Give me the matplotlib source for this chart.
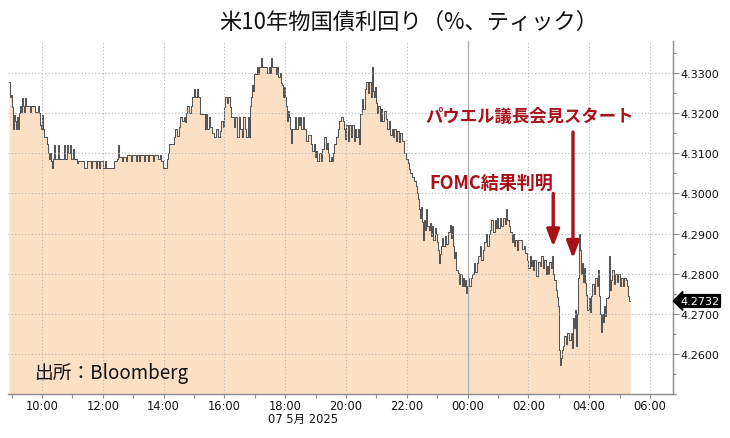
import matplotlib
matplotlib.use("Agg")
import matplotlib.pyplot as plt
import numpy as np
from matplotlib.ticker import FixedLocator, FixedFormatter, MultipleLocator, FormatStrFormatter

plt.rcParams['font.family'] = ['DejaVu Sans', 'Noto Sans CJK JP']

# ---------------- data ----------------
title = "米10年物国債利回り（%、ティック）"
source_label = "出所：Bloomberg"
date_label = "07 5月 2025"
fomc_label = "FOMC結果判明"
powell_label = "パウエル議長会見スタート"
last_value = 4.2732

x_tick_labels = ["10:00", "12:00", "14:00", "16:00", "18:00", "20:00",
                 "22:00", "00:00", "02:00", "04:00", "06:00"]
y_ticks = [4.26, 4.27, 4.28, 4.29, 4.30, 4.31, 4.32, 4.33]

times = [
    "08:55", "08:56", "08:58", "09:00", "09:02", "09:04", "09:06", "09:08", "09:10", "09:12",
    "09:14", "09:16", "09:18", "09:20", "09:22", "09:24", "09:26", "09:28", "09:34", "09:36",
    "09:38", "09:44", "09:46", "09:50", "09:52", "09:54", "09:56", "09:58", "10:00", "10:02",
    "10:04", "10:08", "10:10", "10:12", "10:14", "10:16", "10:18", "10:20", "10:22", "10:24",
    "10:26", "10:30", "10:32", "10:34", "10:42", "10:44", "10:46", "10:50", "10:52", "10:56",
    "10:58", "11:02", "11:04", "11:08", "11:10", "11:12", "11:20", "11:22", "11:26", "11:28",
    "11:34", "11:36", "11:38", "11:44", "11:46", "11:48", "11:52", "11:54", "11:58", "12:00",
    "12:04", "12:06", "12:18", "12:22", "12:26", "12:28", "12:30", "12:32", "12:36", "12:38",
    "12:40", "12:44", "12:46", "12:48", "12:54", "12:56", "12:58", "13:04", "13:06", "13:08",
    "13:12", "13:14", "13:20", "13:22", "13:24", "13:30", "13:32", "13:38", "13:40", "13:42",
    "13:48", "13:52", "13:55", "13:58", "14:04", "14:06", "14:08", "14:10", "14:18", "14:20",
    "14:22", "14:26", "14:30", "14:32", "14:36", "14:40", "14:42", "14:44", "14:46", "14:50",
    "14:54", "14:56", "15:00", "15:02", "15:06", "15:08", "15:10", "15:12", "15:20", "15:22",
    "15:24", "15:26", "15:30", "15:32", "15:36", "15:40", "15:44", "15:48", "15:52", "15:54",
    "15:58", "16:00", "16:02", "16:06", "16:08", "16:12", "16:14", "16:18", "16:20", "16:24",
    "16:28", "16:30", "16:34", "16:36", "16:40", "16:42", "16:46", "16:48", "16:50", "16:52",
    "16:54", "16:56", "16:58", "17:00", "17:04", "17:06", "17:08", "17:12", "17:14", "17:22",
    "17:24", "17:28", "17:30", "17:32", "17:34", "17:40", "17:42", "17:44", "17:46", "17:50",
    "17:52", "17:54", "17:56", "17:58", "18:00", "18:02", "18:04", "18:06", "18:08", "18:10",
    "18:12", "18:14", "18:18", "18:20", "18:22", "18:26", "18:28", "18:30", "18:32", "18:36",
    "18:38", "18:42", "18:46", "18:50", "18:52", "18:56", "18:58", "19:00", "19:02", "19:06",
    "19:10", "19:12", "19:16", "19:20", "19:22", "19:24", "19:26", "19:30", "19:32", "19:34",
    "19:36", "19:40", "19:44", "19:46", "19:50", "19:54", "19:56", "19:58", "20:00", "20:04",
    "20:06", "20:10", "20:12", "20:16", "20:18", "20:20", "20:24", "20:26", "20:28", "20:32",
    "20:34", "20:38", "20:40", "20:44", "20:46", "20:50", "20:52", "20:54", "20:56", "20:58",
    "21:00", "21:02", "21:04", "21:08", "21:10", "21:12", "21:16", "21:18", "21:20", "21:24",
    "21:26", "21:30", "21:32", "21:34", "21:38", "21:40", "21:44", "21:46", "21:50", "21:54",
    "21:58", "22:02", "22:04", "22:06", "22:10", "22:14", "22:18", "22:20", "22:22", "22:24",
    "22:26", "22:28", "22:30", "22:32", "22:34", "22:36", "22:38", "22:40", "22:44", "22:46",
    "22:48", "22:50", "22:52", "22:56", "22:58", "23:00", "23:02", "23:04", "23:06", "23:08",
    "23:10", "23:12", "23:16", "23:18", "23:22", "23:26", "23:28", "23:30", "23:32", "23:34",
    "23:36", "23:38", "23:42", "23:44", "23:46", "23:48", "23:50", "23:52", "23:54", "23:56",
    "23:58", "00:00", "00:02", "00:06", "00:08", "00:12", "00:14", "00:18", "00:20", "00:24",
    "00:26", "00:30", "00:32", "00:36", "00:38", "00:42", "00:44", "00:46", "00:50", "00:54",
    "00:56", "00:58", "01:00", "01:04", "01:06", "01:10", "01:14", "01:16", "01:18", "01:22",
    "01:24", "01:28", "01:30", "01:32", "01:34", "01:38", "01:40", "01:46", "01:48", "01:52",
    "01:54", "01:58", "02:00", "02:04", "02:06", "02:08", "02:10", "02:12", "02:16", "02:18",
    "02:22", "02:24", "02:28", "02:30", "02:34", "02:36", "02:38", "02:40", "02:44", "02:46",
    "02:48", "02:50", "02:54", "02:56", "02:58", "03:00", "03:02", "03:04", "03:06", "03:08",
    "03:10", "03:14", "03:16", "03:20", "03:24", "03:26", "03:28", "03:30", "03:32", "03:34",
    "03:36", "03:38", "03:40", "03:42", "03:44", "03:46", "03:48", "03:50", "03:52", "03:54",
    "03:56", "04:00", "04:02", "04:04", "04:06", "04:10", "04:12", "04:16", "04:18", "04:20",
    "04:22", "04:24", "04:26", "04:28", "04:30", "04:32", "04:34", "04:38", "04:40", "04:42",
    "04:44", "04:46", "04:48", "04:50", "04:54", "04:56", "05:00", "05:02", "05:06", "05:08",
    "05:12", "05:14", "05:16", "05:19", "05:21",
]

yields = [
    4.3277, 4.3240, 4.3245, 4.3215, 4.3160, 4.3195, 4.3180, 4.3160, 4.3190, 4.3160,
    4.3200, 4.3218, 4.3203, 4.3237, 4.3218, 4.3203, 4.3237, 4.3218, 4.3218, 4.3203,
    4.3218, 4.3218, 4.3203, 4.3203, 4.3218, 4.3200, 4.3170, 4.3160, 4.3195, 4.3160,
    4.3140, 4.3140, 4.3122, 4.3102, 4.3085, 4.3102, 4.3080, 4.3063, 4.3085, 4.3120,
    4.3085, 4.3085, 4.3120, 4.3085, 4.3085, 4.3120, 4.3085, 4.3120, 4.3100, 4.3120,
    4.3085, 4.3110, 4.3085, 4.3085, 4.3075, 4.3080, 4.3080, 4.3063, 4.3063, 4.3080,
    4.3080, 4.3063, 4.3080, 4.3080, 4.3063, 4.3080, 4.3063, 4.3080, 4.3080, 4.3063,
    4.3080, 4.3063, 4.3063, 4.3080, 4.3080, 4.3085, 4.3120, 4.3090, 4.3090, 4.3080,
    4.3090, 4.3090, 4.3080, 4.3095, 4.3095, 4.3080, 4.3095, 4.3095, 4.3080, 4.3095,
    4.3080, 4.3095, 4.3095, 4.3080, 4.3095, 4.3080, 4.3095, 4.3095, 4.3080, 4.3095,
    4.3085, 4.3095, 4.3080, 4.3063, 4.3063, 4.3085, 4.3100, 4.3122, 4.3122, 4.3140,
    4.3160, 4.3143, 4.3165, 4.3190, 4.3180, 4.3190, 4.3178, 4.3200, 4.3218, 4.3200,
    4.3218, 4.3240, 4.3260, 4.3240, 4.3260, 4.3240, 4.3240, 4.3198, 4.3198, 4.3160,
    4.3198, 4.3160, 4.3190, 4.3165, 4.3150, 4.3140, 4.3160, 4.3140, 4.3155, 4.3180,
    4.3165, 4.3215, 4.3240, 4.3225, 4.3240, 4.3215, 4.3190, 4.3165, 4.3190, 4.3140,
    4.3190, 4.3160, 4.3140, 4.3190, 4.3160, 4.3140, 4.3190, 4.3140, 4.3218, 4.3240,
    4.3270, 4.3255, 4.3297, 4.3297, 4.3315, 4.3297, 4.3316, 4.3337, 4.3316, 4.3316,
    4.3300, 4.3316, 4.3300, 4.3337, 4.3316, 4.3316, 4.3297, 4.3316, 4.3290, 4.3300,
    4.3275, 4.3270, 4.3240, 4.3265, 4.3240, 4.3218, 4.3180, 4.3205, 4.3190, 4.3160,
    4.3125, 4.3160, 4.3160, 4.3190, 4.3160, 4.3190, 4.3170, 4.3190, 4.3160, 4.3190,
    4.3160, 4.3130, 4.3145, 4.3122, 4.3105, 4.3122, 4.3090, 4.3105, 4.3080, 4.3100,
    4.3080, 4.3110, 4.3140, 4.3110, 4.3125, 4.3100, 4.3080, 4.3090, 4.3080, 4.3100,
    4.3122, 4.3140, 4.3160, 4.3180, 4.3190, 4.3180, 4.3160, 4.3135, 4.3170, 4.3130,
    4.3170, 4.3140, 4.3170, 4.3130, 4.3160, 4.3140, 4.3160, 4.3122, 4.3197, 4.3235,
    4.3210, 4.3260, 4.3277, 4.3250, 4.3277, 4.3240, 4.3315, 4.3255, 4.3240, 4.3265,
    4.3225, 4.3200, 4.3218, 4.3180, 4.3210, 4.3180, 4.3205, 4.3185, 4.3160, 4.3180,
    4.3145, 4.3160, 4.3140, 4.3160, 4.3130, 4.3155, 4.3127, 4.3150, 4.3130, 4.3100,
    4.3085, 4.3075, 4.3060, 4.3052, 4.3040, 4.3030, 4.3018, 4.3000, 4.2985, 4.2960,
    4.2940, 4.2965, 4.2930, 4.2885, 4.2935, 4.2910, 4.2960, 4.2920, 4.2910, 4.2927,
    4.2895, 4.2920, 4.2885, 4.2915, 4.2900, 4.2880, 4.2860, 4.2827, 4.2850, 4.2870,
    4.2890, 4.2868, 4.2895, 4.2875, 4.2905, 4.2922, 4.2890, 4.2920, 4.2868, 4.2840,
    4.2855, 4.2810, 4.2802, 4.2775, 4.2800, 4.2768, 4.2790, 4.2768, 4.2785, 4.2752,
    4.2770, 4.2790, 4.2770, 4.2790, 4.2800, 4.2827, 4.2805, 4.2827, 4.2845, 4.2868,
    4.2835, 4.2860, 4.2880, 4.2900, 4.2870, 4.2900, 4.2910, 4.2935, 4.2905, 4.2935,
    4.2915, 4.2940, 4.2915, 4.2940, 4.2920, 4.2940, 4.2925, 4.2962, 4.2935, 4.2920,
    4.2905, 4.2880, 4.2900, 4.2870, 4.2885, 4.2860, 4.2885, 4.2885, 4.2862, 4.2870,
    4.2852, 4.2835, 4.2815, 4.2845, 4.2820, 4.2835, 4.2810, 4.2835, 4.2795, 4.2830,
    4.2820, 4.2843, 4.2815, 4.2835, 4.2800, 4.2820, 4.2800, 4.2830, 4.2815, 4.2845,
    4.2800, 4.2785, 4.2760, 4.2742, 4.2720, 4.2610, 4.2572, 4.2590, 4.2610, 4.2620,
    4.2645, 4.2625, 4.2652, 4.2635, 4.2652, 4.2615, 4.2690, 4.2665, 4.2710, 4.2620,
    4.2700, 4.2790, 4.2900, 4.2860, 4.2800, 4.2827, 4.2780, 4.2815, 4.2777, 4.2748,
    4.2710, 4.2740, 4.2705, 4.2745, 4.2775, 4.2750, 4.2790, 4.2770, 4.2810, 4.2745,
    4.2700, 4.2655, 4.2700, 4.2680, 4.2720, 4.2695, 4.2740, 4.2742, 4.2843, 4.2760,
    4.2785, 4.2810, 4.2775, 4.2800, 4.2780, 4.2800, 4.2770, 4.2790, 4.2770, 4.2790,
    4.2785, 4.2768, 4.2745, 4.2732, 4.2732,
]

# event annotation times (clock, next day)
fomc_time = "02:49"
powell_time = "03:28"

# ---------------- helpers ----------------
def to_hours(tlist, start_hour=10):
    """Clock times in order -> hours since start_hour of first day (rolls over at midnight)."""
    out, offset, prev = [], 0.0, None
    for t in tlist:
        h, m = map(int, t.split(":"))
        v = h + m / 60.0
        if prev is not None and v + offset < prev:
            offset += 24
        out.append(v + offset - start_hour)
        prev = v + offset
    return np.array(out)

x = to_hours(times)
y = np.array(yields)
fomc_x = to_hours(["10:00", fomc_time])[1]
powell_x = to_hours(["10:00", powell_time])[1]

# ---------------- figure ----------------
fig = plt.figure(figsize=(7.30, 4.39), dpi=100)
ax = fig.add_axes([8 / 730, 1 - 395 / 439, (673 - 8) / 730, (395 - 42) / 439])

ymin, ymax = 4.2500, 4.3380
ax.set_xlim(-1.118, 20.757)
ax.set_ylim(ymin, ymax)

fill_col = "#FCE0C6"
ax.fill_between(x, y, ymin, step="post", color=fill_col, lw=0, zorder=1)
ax.plot(x, y, drawstyle="steps-post", color="#555555", lw=0.75, zorder=2)

# grid
ax.set_axisbelow(False)
ax.xaxis.set_major_locator(FixedLocator(np.arange(0, 21, 2)))
ax.xaxis.set_major_formatter(FixedFormatter(x_tick_labels))
ax.xaxis.set_minor_locator(FixedLocator(np.arange(-1, 21, 2)))
ax.yaxis.set_major_locator(FixedLocator(y_ticks))
ax.yaxis.set_major_formatter(FormatStrFormatter("%.4f"))
ax.yaxis.set_minor_locator(MultipleLocator(0.005))
ax.grid(which="major", ls=(0, (1, 2)), color="#b5b5b5", lw=0.8, zorder=3)
ax.axvline(14, color="#b0b0b0", lw=0.9, zorder=3)

ax.yaxis.tick_right()
for s in ["left", "top"]:
    ax.spines[s].set_visible(False)
for s in ["right", "bottom"]:
    ax.spines[s].set_color("#8a8a8a")
    ax.spines[s].set_linewidth(1.0)

ax.tick_params(axis="y", which="major", length=4, width=0.8, color="#8a8a8a",
               labelsize=8, pad=1.5, labelcolor="#111111")
ax.tick_params(axis="y", which="minor", length=2.5, width=0.8, color="#8a8a8a")
ax.tick_params(axis="x", which="major", length=3, width=0.8, color="#8a8a8a",
               labelsize=8.3, pad=0.5, labelcolor="#111111")
ax.tick_params(axis="x", which="minor", length=3, width=0.8, color="#8a8a8a")

# last value tag
ax.annotate(f"{last_value:.4f}", xy=(1.0, last_value), xycoords=("axes fraction", "data"),
            xytext=(5, 0), textcoords="offset points", ha="left", va="center",
            color="white", fontsize=8,
            bbox=dict(boxstyle="larrow,pad=0.12", fc="black", ec="black"))

# annotations
red = "#A8101A"
cjk = ["Noto Sans CJK JP", "DejaVu Sans"]
ax.text(16.05, 4.3193, powell_label, color=red, fontsize=12.5, fontweight="bold",
        ha="center", va="center", family=cjk)
ax.text(14.77, 4.3028, fomc_label, color=red, fontsize=13, fontweight="bold",
        ha="center", va="center", family=cjk)
arrow_kw = dict(arrowstyle="-|>,head_width=0.32,head_length=0.85", color=red, lw=2.4,
                shrinkA=0, shrinkB=0, mutation_scale=12)
ax.annotate("", xy=(fomc_x, 4.2867), xytext=(fomc_x, 4.3000), arrowprops=arrow_kw)
ax.annotate("", xy=(powell_x, 4.2838), xytext=(powell_x, 4.3153), arrowprops=arrow_kw)

# texts
fig.text(409 / 730, 1 - 22 / 439, title, ha="center", va="center", fontsize=16,
         family=cjk, color="#111111")
fig.text(35 / 730, 1 - 373 / 439, source_label, ha="left", va="center", fontsize=13.5,
         family=cjk, color="#111111")
fig.text(268 / 730, 1 - 419 / 439, date_label, ha="left", va="center", fontsize=8.3,
         family=["DejaVu Sans", "Noto Sans CJK JP"], color="#111111")

fig.savefig("out.png", dpi=100)
